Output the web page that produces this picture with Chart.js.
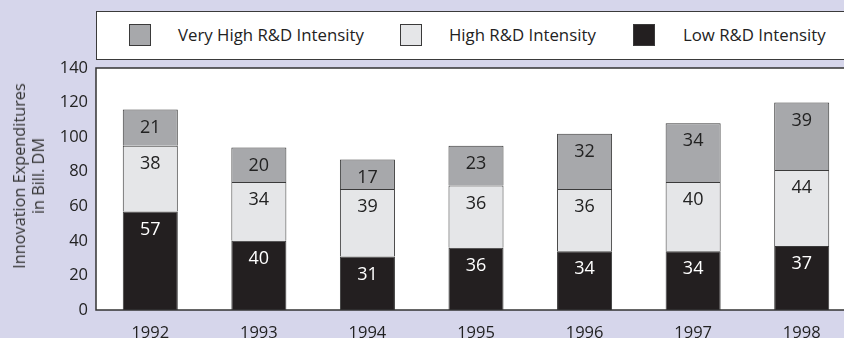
<!DOCTYPE html>
<html>
<head>
<meta charset="utf-8">
<script src="https://cdn.jsdelivr.net/npm/chart.js@4"></script>
<style>
  html, body { margin: 0; padding: 0; width: 844px; height: 338px; overflow: hidden; background: #d6d6eb; font-family: "Open Sans", sans-serif; color: #222; }
  #wrap { position: absolute; left: 0; top: 0; width: 856px; height: 338px; }
  #legend { position: absolute; left: 96px; top: 11px; width: 780px; height: 47px; background: #fff; border: 1.5px solid #3a3a3a; }
  .mk { position: absolute; top: 12px; width: 20px; height: 20px; border: 1px solid #3a3a3a; }
  .lt { position: absolute; top: 12px; font-size: 16.8px; line-height: 22px; white-space: nowrap; }
  #ytitle { position: absolute; left: 29px; top: 176px; transform: translate(-50%, -50%) rotate(-90deg); font-size: 16.3px; line-height: 19px; text-align: center; white-space: nowrap; color: #333; }
</style>
</head>
<body>
<div id="wrap"><canvas id="chart" width="856" height="338"></canvas></div>
<div id="legend"></div>
<div id="ytitle">Innovation Expenditures<br>in Bill. DM</div>
<script>
// values (bill. DM)
const years = ['1992', '1993', '1994', '1995', '1996', '1997', '1998'];
const lowRD = [57, 40, 31, 36, 34, 34, 37];
const highRD = [38, 34, 39, 36, 36, 40, 44];
const veryHighRD = [21, 20, 17, 23, 32, 34, 39];
const yTicks = [0, 20, 40, 60, 80, 100, 120, 140];

const colors = { veryHigh: '#a7a8ab', high: '#e5e6e8', low: '#231f20' };

// legend as plain html, same order as the reference
const legendItems = [
  { label: 'Very High R&D Intensity', color: colors.veryHigh, mx: 32, tx: 81 },
  { label: 'High R&D Intensity', color: colors.high, mx: 303, tx: 352 },
  { label: 'Low R&D Intensity', color: colors.low, mx: 536, tx: 586 }
];
const legendEl = document.getElementById('legend');
legendItems.forEach(it => {
  const m = document.createElement('div');
  m.className = 'mk';
  m.style.left = it.mx + 'px';
  m.style.background = it.color;
  legendEl.appendChild(m);
  const t = document.createElement('div');
  t.className = 'lt';
  t.style.left = it.tx + 'px';
  t.textContent = it.label;
  legendEl.appendChild(t);
});

const plotBg = {
  id: 'plotBg',
  beforeDraw(chart) {
    const { ctx, chartArea: a } = chart;
    ctx.save();
    ctx.fillStyle = '#fff';
    ctx.fillRect(a.left, a.top, a.right - a.left, a.bottom - a.top);
    ctx.restore();
  },
  afterDraw(chart) {
    const { ctx, chartArea: a } = chart;
    ctx.save();
    ctx.strokeStyle = '#333';
    ctx.lineWidth = 1.5;
    ctx.strokeRect(a.left, a.top, a.right - a.left, a.bottom - a.top);
    ctx.restore();
  }
};

const barLabels = {
  id: 'barLabels',
  afterDatasetsDraw(chart) {
    const ctx = chart.ctx;
    ctx.save();
    ctx.font = '18px "Open Sans", sans-serif';
    ctx.textAlign = 'center';
    ctx.textBaseline = 'middle';
    chart.data.datasets.forEach((ds, i) => {
      const meta = chart.getDatasetMeta(i);
      meta.data.forEach((bar, j) => {
        ctx.fillStyle = ds.labelColor;
        ctx.fillText(ds.data[j], bar.x, bar.y + 18);
      });
    });
    ctx.restore();
  }
};

new Chart(document.getElementById('chart'), {
  type: 'bar',
  data: {
    labels: years,
    datasets: [
      { label: 'Low R&D Intensity', data: lowRD, backgroundColor: colors.low, labelColor: '#fff' },
      { label: 'High R&D Intensity', data: highRD, backgroundColor: colors.high, labelColor: '#222' },
      { label: 'Very High R&D Intensity', data: veryHighRD, backgroundColor: colors.veryHigh, labelColor: '#222' }
    ].map(d => Object.assign(d, { borderColor: '#3a3a3a', borderWidth: 1, categoryPercentage: 1, barPercentage: 0.507 }))
  },
  options: {
    responsive: false,
    animation: false,
    layout: { padding: { top: 68, right: 0, left: 0, bottom: 0 } },
    plugins: { legend: { display: false }, tooltip: { enabled: false } },
    scales: {
      x: {
        stacked: true,
        grid: { display: false, drawTicks: false },
        border: { display: false },
        ticks: { color: '#222', font: { family: 'Open Sans', size: 16.5 }, padding: 13 },
        afterFit: s => { s.height = 28; }
      },
      y: {
        stacked: true,
        min: 0,
        max: 140,
        grid: { display: false, drawTicks: false },
        border: { display: false },
        afterBuildTicks: s => { s.ticks = yTicks.map(v => ({ value: v })); },
        ticks: { color: '#222', font: { family: 'Open Sans', size: 16.5 }, padding: 8 },
        afterFit: s => { s.width = 96; }
      }
    }
  },
  plugins: [plotBg, barLabels]
});
</script>
</body>
</html>
